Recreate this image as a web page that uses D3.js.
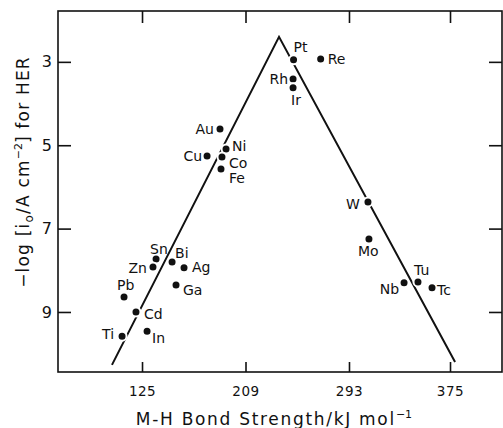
<!DOCTYPE html>
<html>
<head>
<meta charset="utf-8">
<script src="https://cdn.jsdelivr.net/npm/d3@7"></script>
<style>
  html, body { margin: 0; padding: 0; background: #fff; }
  svg { display: block; }
  text { font-family: "DejaVu Sans", sans-serif; fill: #111; }
</style>
</head>
<body>
<svg id="chart" width="503" height="428"></svg>
<script>
// Metals and their M-H bond strength (kJ/mol) vs -log exchange current density
const metals    = ["Pt", "Re", "Rh", "Ir", "Au", "Ni", "Cu", "Co", "Fe", "Sn", "Zn", "Bi", "Ag", "Ga", "Pb", "Cd", "In", "Ti", "W", "Mo", "Tu", "Nb", "Tc"];
const bondEnergy = [248, 270, 247.6, 247.6, 188.3, 193.2, 177.8, 189.9, 189.1, 136.4, 133.9, 149.4, 159.1, 152.6, 110.4, 120.1, 129.1, 108.8, 308.4, 309.2, 349, 337.7, 360.4];
const negLogI0   = [2.95, 2.93, 3.41, 3.62, 4.61, 5.09, 5.26, 5.28, 5.57, 7.73, 7.92, 7.80, 7.94, 8.35, 8.64, 9.0, 9.46, 9.58, 6.36, 7.25, 8.28, 8.30, 8.42];

// Volcano trend line: left foot, apex, right foot
const volcanoX = [100.6, 236.2, 379.1];
const volcanoY = [10.27, 2.40, 10.2];

const xTicks = [125, 209, 293, 375];
const yTicks = [3, 5, 7, 9];

// label placement around each dot: [dx, dy, anchor]
const labelPlace = {
  Pt: [0, -8, "start"], Re: [7, 5, "start"], Rh: [-5, 5, "end"], Ir: [-2, 17, "start"],
  Au: [-6, 5, "end"], Ni: [6, 2, "start"], Cu: [-5, 5, "end"], Co: [7, 11, "start"],
  Fe: [8, 14, "start"], Sn: [-6, -5, "start"], Zn: [-6, 6, "end"], Bi: [3, -4, "start"],
  Ag: [8, 4, "start"], Ga: [7, 10, "start"], Pb: [-7, -7, "start"], Cd: [8, 7, "start"],
  In: [5, 12, "start"], Ti: [-8, 3, "end"], W: [-8, 7, "end"], Mo: [-11, 17, "start"],
  Tu: [-4, -7, "start"], Nb: [-5, 11, "end"], Tc: [5, 7, "start"]
};

const svg = d3.select("#chart");
const frameL = 58, frameR = 502, frameT = 11, frameB = 372;

const x = d3.scaleLinear().domain([56.8, 417.2]).range([frameL, frameR]);
const y = d3.scaleLinear().domain([1.78, 10.44]).range([frameT, frameB]);

// frame
svg.append("rect")
  .attr("x", frameL).attr("y", frameT)
  .attr("width", frameR - frameL).attr("height", frameB - frameT)
  .attr("fill", "none").attr("stroke", "#111").attr("stroke-width", 1.6);

// axes with inward ticks
function styleAxis(g) {
  g.select(".domain").remove();
  g.selectAll(".tick line").attr("stroke", "#111").attr("stroke-width", 1.6);
}
svg.append("g").attr("transform", `translate(0,${frameB})`)
  .call(d3.axisBottom(x).tickValues(xTicks).tickSize(-10).tickPadding(14))
  .call(styleAxis)
  .selectAll("text").attr("font-size", 13.5).attr("font-family", "DejaVu Sans, sans-serif")
  .attr("letter-spacing", 0.5).attr("fill", "#111");
svg.append("g").attr("transform", `translate(0,${frameT})`)
  .call(d3.axisTop(x).tickValues(xTicks).tickSize(-12).tickFormat(""))
  .call(styleAxis);
svg.append("g").attr("transform", `translate(${frameL},0)`)
  .call(d3.axisLeft(y).tickValues(yTicks).tickSize(-13).tickPadding(6))
  .call(styleAxis)
  .selectAll("text").attr("font-size", 16).attr("font-family", "DejaVu Sans, sans-serif").attr("fill", "#111");
svg.append("g").attr("transform", `translate(${frameR},0)`)
  .call(d3.axisRight(y).tickValues(yTicks).tickSize(-13).tickFormat(""))
  .call(styleAxis);

// volcano line
const line = d3.line().x(d => x(d[0])).y(d => y(d[1]));
svg.append("path")
  .datum(d3.zip(volcanoX, volcanoY))
  .attr("d", line)
  .attr("fill", "none").attr("stroke", "#111").attr("stroke-width", 2)
  .attr("stroke-linejoin", "miter");

// data points
const pts = metals.map((m, i) => ({ m, bx: bondEnergy[i], ly: negLogI0[i] }));
svg.append("g").selectAll("circle").data(pts).join("circle")
  .attr("cx", d => x(d.bx)).attr("cy", d => y(d.ly)).attr("r", 4.5)
  .attr("fill", "#111").attr("stroke", "#fff").attr("stroke-width", 2);

svg.append("g").selectAll("text").data(pts).join("text")
  .attr("x", d => x(d.bx) + labelPlace[d.m][0])
  .attr("y", d => y(d.ly) + labelPlace[d.m][1])
  .attr("text-anchor", d => labelPlace[d.m][2])
  .attr("font-size", 14)
  .text(d => d.m);

// axis titles
const xt = svg.append("text").attr("x", 274).attr("y", 425)
  .attr("text-anchor", "middle").attr("font-size", 17).attr("letter-spacing", 1.7);
xt.append("tspan").text("M-H Bond Strength/kJ mol");
xt.append("tspan").attr("dy", -7).attr("font-size", 11).attr("letter-spacing", 0).text("\u22121");

const yt = svg.append("text")
  .attr("transform", "translate(29,172) rotate(-90)")
  .attr("text-anchor", "middle").attr("font-size", 17).attr("letter-spacing", 1.2);
yt.append("tspan").text("\u2212log  [i");
yt.append("tspan").attr("dy", 4).attr("font-size", 12).text("o");
yt.append("tspan").attr("dy", -4).text("/A cm");
yt.append("tspan").attr("dy", -7).attr("font-size", 11).attr("letter-spacing", 0).text("\u22122");
yt.append("tspan").attr("dy", 7).text("] for HER");
</script>
</body>
</html>
